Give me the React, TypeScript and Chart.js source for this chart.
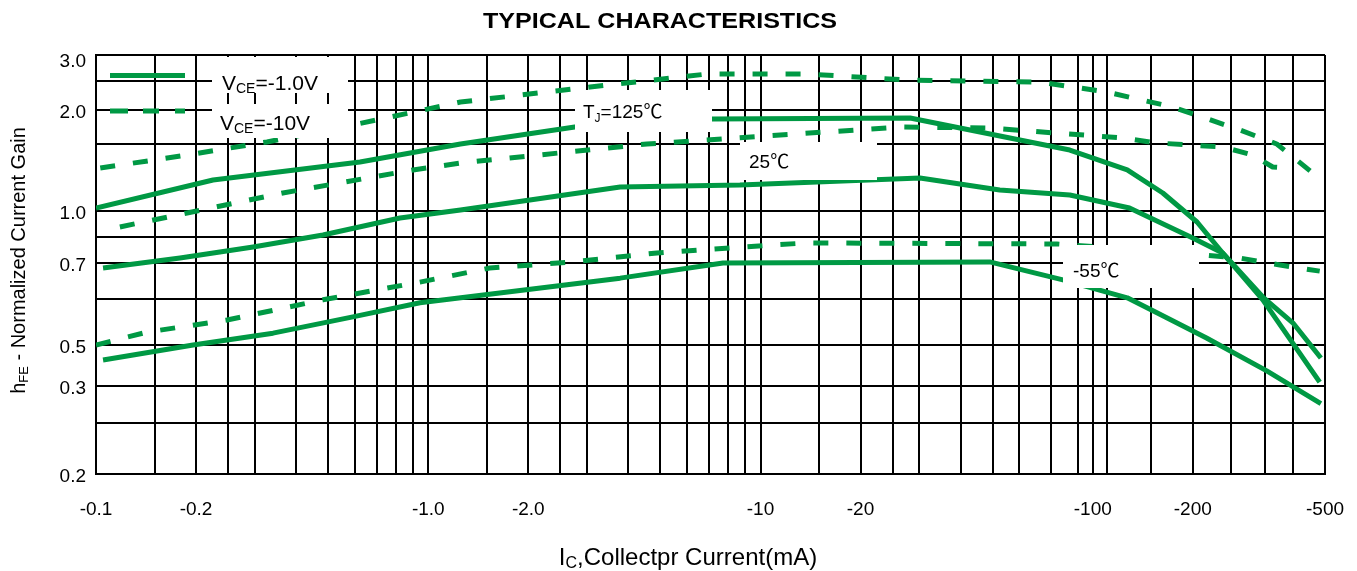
import React, { useEffect, useRef } from 'react';
import { Chart, registerables, LinearScale } from 'chart.js';

Chart.register(...registerables);

// ---------------- data ----------------
// Collector current |Ic| (mA) and normalized hFE
const ic125_1V = [0.1, 0.225, 0.623, 1.25, 2.76, 7.14, 28.2, 85.3, 127, 162.5, 206, 246, 325, 482];
const hfe125_1V = [1.018, 1.206, 1.345, 1.5, 1.732, 1.853, 1.869, 1.446, 1.282, 1.115, 0.91, 0.737, 0.598, 0.315];

const ic125_10V = [0.103, 0.188, 0.327, 0.593, 1.25, 3.07, 6.9, 13.8, 27.6, 69.3, 110, 174, 277, 358, 492];
const hfe125_10V = [1.297, 1.403, 1.526, 1.762, 2.127, 2.387, 2.649, 2.649, 2.521, 2.481, 2.297, 2.047, 1.689, 1.5, 1.199];

const ic25_1V = [0.105, 0.179, 0.297, 0.482, 0.822, 1.25, 3.78, 8.67, 30.2, 52.5, 85.3, 129, 200, 246, 325, 400, 486];
const hfe25_1V = [0.685, 0.718, 0.76, 0.814, 0.942, 1.006, 1.156, 1.17, 1.221, 1.136, 1.102, 1.018, 0.796, 0.737, 0.605, 0.546, 0.425];

const ic25_10V = [0.118, 0.188, 0.365, 0.9, 1.25, 4.55, 26.3, 49, 123, 156, 246, 303, 348, 384];
const hfe25_10V = [0.872, 0.983, 1.115, 1.282, 1.337, 1.5, 1.732, 1.717, 1.578, 1.513, 1.473, 1.403, 1.305, 1.297];

const icm55_1V = [0.105, 0.196, 0.341, 0.593, 0.944, 3.78, 7.71, 49, 81.3, 127, 156, 220, 334, 486];
const hfem55_1V = [0.415, 0.5, 0.524, 0.559, 0.591, 0.656, 0.7, 0.704, 0.651, 0.603, 0.568, 0.514, 0.362, 0.275];

const icm55_10V = [0.1, 0.142, 0.248, 0.482, 0.944, 1.53, 2.73, 4.88, 10.9, 13.8, 78, 217, 277, 366, 482];
const hfem55_10V = [0.5, 0.526, 0.552, 0.598, 0.645, 0.685, 0.704, 0.737, 0.768, 0.776, 0.772, 0.729, 0.718, 0.694, 0.676];

// x axis (log) grid lines and tick labels
const xGridValues = [0.1, 0.15, 0.2, 0.25, 0.3, 0.4, 0.5, 0.6, 0.7, 0.8, 0.9, 1, 1.5, 2, 2.5, 3, 4, 5, 6, 7, 8, 9, 10, 15, 20, 25, 30, 40, 50, 60, 75, 90, 100, 110, 150, 200, 260, 330, 400, 500];
const xLabelValues = [0.1, 0.2, 1, 2, 10, 20, 100, 200, 500];
const xLabelText = ['-0.1', '-0.2', '-1.0', '-2.0', '-10', '-20', '-100', '-200', '-500'];

// y axis: datasheet's non-uniform hFE scale (stops and their fraction of the axis height)
const yStopValues = [0.2, 0.25, 0.3, 0.5, 0.6, 0.7, 0.8, 1.0, 1.5, 2.0, 2.5, 3.0, 3.1];
const yStopFraction = [0, 0.1217, 0.21, 0.3079, 0.4177, 0.5036, 0.5656, 0.6277, 0.7876, 0.8687, 0.9379, 0.9905, 1];
const yLabelValues = [0.2, 0.3, 0.5, 0.7, 1.0, 2.0, 3.0];
const yLabelText = ['0.2', '0.3', '0.5', '0.7', '1.0', '2.0', '3.0'];

// ---------------- scale ----------------
function hfeToFrac(v: number): number {
  const s = yStopValues, f = yStopFraction;
  let i = 0;
  while (i < s.length - 2 && v > s[i + 1]) i++;
  const t = Math.log(v / s[i]) / Math.log(s[i + 1] / s[i]);
  return f[i] + t * (f[i + 1] - f[i]);
}
function fracToHfe(fr: number): number {
  const s = yStopValues, f = yStopFraction;
  let i = 0;
  while (i < f.length - 2 && fr > f[i + 1]) i++;
  const t = (fr - f[i]) / (f[i + 1] - f[i]);
  return s[i] * Math.pow(s[i + 1] / s[i], t);
}

class PiecewiseLogScale extends LinearScale {
  static id = 'piecewiseLog';
  static defaults = {};
  getPixelForValue(value: any) {
    if (value === null || value === undefined || isNaN(value)) return NaN;
    return (this as any).getPixelForDecimal(hfeToFrac(value));
  }
  getValueForPixel(pixel: number) {
    return fracToHfe((this as any).getDecimalForPixel(pixel));
  }
}
Chart.register(PiecewiseLogScale as any);

const GREEN = '#009944';
const SANS = '"Liberation Sans", Arial, sans-serif';
const CJK = '"Noto Sans CJK SC", "Liberation Sans", sans-serif';

type Part = { t: string; size: number; dy?: number; cjk?: boolean; bold?: boolean };

function partFont(p: Part) {
  return `${p.bold ? 'bold ' : ''}${p.size}px ${p.cjk ? CJK : SANS}`;
}
function measureParts(ctx: CanvasRenderingContext2D, parts: Part[]) {
  let w = 0;
  for (const p of parts) { ctx.font = partFont(p); w += ctx.measureText(p.t).width; }
  return w;
}
function drawParts(ctx: CanvasRenderingContext2D, parts: Part[], x: number, y: number) {
  ctx.textAlign = 'left';
  ctx.textBaseline = 'alphabetic';
  let cx = x;
  for (const p of parts) {
    ctx.font = partFont(p);
    ctx.fillText(p.t, cx, y + (p.dy || 0));
    cx += ctx.measureText(p.t).width;
  }
}

const boxes: { x: number; y: number; w: number; h: number; tx: number; ty: number; parts: Part[] }[] = [
  { x: 212, y: 57, w: 136, h: 36, tx: 222, ty: 90, parts: [{ t: 'V', size: 21 }, { t: 'CE', size: 14, dy: 2.5 }, { t: '=-1.0V', size: 21 }] },
  { x: 212, y: 104, w: 136, h: 34, tx: 220, ty: 130, parts: [{ t: 'V', size: 21 }, { t: 'CE', size: 14, dy: 2.5 }, { t: '=-10V', size: 21 }] },
  { x: 575, y: 90, w: 137, h: 42, tx: 583, ty: 118, parts: [{ t: 'T', size: 19 }, { t: 'J', size: 12, dy: 4 }, { t: '=125', size: 19 }, { t: '℃', size: 19, cjk: true }] },
  { x: 740, y: 142, w: 137, h: 38, tx: 749, ty: 168, parts: [{ t: '25', size: 19 }, { t: '℃', size: 19, cjk: true }] },
  { x: 1063, y: 245, w: 136, h: 43, tx: 1073, ty: 277, parts: [{ t: '-55', size: 19 }, { t: '℃', size: 19, cjk: true }] },
];

const decorPlugin = {
  id: 'decor',
  afterDatasetsDraw(chart: any) {
    const ctx: CanvasRenderingContext2D = chart.ctx;
    ctx.save();
    // legend samples
    ctx.strokeStyle = GREEN;
    ctx.lineWidth = 5;
    ctx.lineCap = 'butt';
    ctx.beginPath();
    ctx.moveTo(110, 75.5); ctx.lineTo(185, 75.5);
    ctx.stroke();
    ctx.beginPath();
    for (const [a, b] of [[110, 128], [143, 159], [175, 185]]) { ctx.moveTo(a, 111); ctx.lineTo(b, 111); }
    ctx.stroke();
    // white label boxes
    for (const b of boxes) {
      ctx.fillStyle = '#fff';
      ctx.fillRect(b.x, b.y, b.w, b.h);
      ctx.fillStyle = '#000';
      drawParts(ctx, b.parts, b.tx, b.ty);
    }
    ctx.restore();
  },
  afterDraw(chart: any) {
    const ctx: CanvasRenderingContext2D = chart.ctx;
    const area = chart.chartArea;
    ctx.save();
    ctx.fillStyle = '#000';
    // title (slightly stretched like the datasheet font)
    const title: Part[] = [{ t: 'TYPICAL CHARACTERISTICS', size: 22, bold: true }];
    const tw = measureParts(ctx, title);
    const targetW = 354;
    ctx.save();
    ctx.translate(660 - targetW / 2, 28);
    ctx.scale(targetW / tw, 1);
    drawParts(ctx, title, 0, 0);
    ctx.restore();
    // y axis title
    const yt: Part[] = [{ t: 'h', size: 20 }, { t: 'FE', size: 13, dy: 3 }, { t: ' - Normalized Current Gain', size: 20 }];
    const yw = measureParts(ctx, yt);
    ctx.save();
    ctx.translate(25, (area.top + area.bottom) / 2 - 4);
    ctx.rotate(-Math.PI / 2);
    drawParts(ctx, yt, -yw / 2, 0);
    ctx.restore();
    // x axis title
    const xt: Part[] = [{ t: 'I', size: 24 }, { t: 'C', size: 16, dy: 3 }, { t: ',Collectpr Current(mA)', size: 24 }];
    const xw = measureParts(ctx, xt);
    drawParts(ctx, xt, 688 - xw / 2, 565);
    ctx.restore();
  },
};

function mk(label: string, xs: number[], ys: number[], dashed: boolean) {
  return {
    label,
    data: xs.map((x, i) => ({ x, y: ys[i] })),
    borderColor: GREEN,
    backgroundColor: GREEN,
    borderWidth: 5,
    pointRadius: 0,
    tension: 0,
    fill: false,
    borderDash: dashed ? [15, 18] : [],
    borderJoinStyle: 'round' as const,
    borderCapStyle: 'butt' as const,
  };
}

export default function App() {
  const ref = useRef<HTMLCanvasElement>(null);
  useEffect(() => {
    const tickFont = { family: SANS, size: 19 };
    const chart = new Chart(ref.current!, {
      type: 'line',
      data: {
        datasets: [
          mk('TJ=125℃ VCE=-1.0V', ic125_1V, hfe125_1V, false),
          mk('TJ=125℃ VCE=-10V', ic125_10V, hfe125_10V, true),
          mk('25℃ VCE=-1.0V', ic25_1V, hfe25_1V, false),
          mk('25℃ VCE=-10V', ic25_10V, hfe25_10V, true),
          mk('-55℃ VCE=-1.0V', icm55_1V, hfem55_1V, false),
          mk('-55℃ VCE=-10V', icm55_10V, hfem55_10V, true),
        ] as any,
      },
      options: {
        responsive: false,
        devicePixelRatio: 1,
        animation: false,
        events: [],
        layout: { padding: { top: 55, right: 32, left: 0, bottom: 0 } },
        plugins: { legend: { display: false }, tooltip: { enabled: false }, title: { display: false } },
        scales: {
          x: {
            type: 'logarithmic',
            min: 0.1,
            max: 500,
            afterBuildTicks: (s: any) => { s.ticks = xGridValues.map((v) => ({ value: v })); },
            afterFit: (s: any) => { s.height = 97; s.paddingLeft = 0; s.paddingRight = 0; },
            grid: { color: '#000', lineWidth: 2, drawTicks: false },
            border: { color: '#000', width: 2 },
            ticks: {
              autoSkip: false, maxRotation: 0, minRotation: 0, padding: 24, color: '#000', font: tickFont,
              callback: (v: any) => { const i = xLabelValues.indexOf(Number(v)); return i >= 0 ? xLabelText[i] : ''; },
            },
          },
          y: {
            type: 'piecewiseLog' as any,
            min: 0.2,
            max: 3.1,
            afterBuildTicks: (s: any) => { s.ticks = yStopValues.map((v) => ({ value: v })); },
            afterFit: (s: any) => { s.width = 96; s.paddingTop = 0; s.paddingBottom = 0; },
            grid: {
              color: (c: any) => (c.tick && c.tick.value === 3.0 ? 'rgba(0,0,0,0)' : '#000'),
              lineWidth: 2,
              drawTicks: false,
            },
            border: { color: '#000', width: 2 },
            ticks: {
              autoSkip: false, padding: 10, labelOffset: 3, color: '#000', font: tickFont,
              callback: (v: any) => { const i = yLabelValues.indexOf(Number(v)); return i >= 0 ? yLabelText[i] : ''; },
            },
          } as any,
        },
      },
      plugins: [decorPlugin],
    } as any);
    return () => chart.destroy();
  }, []);
  return (
    <canvas
      ref={ref}
      width={1357}
      height={571}
      style={{ position: 'absolute', left: 0, top: 0, width: 1357, height: 571 }}
    />
  );
}
